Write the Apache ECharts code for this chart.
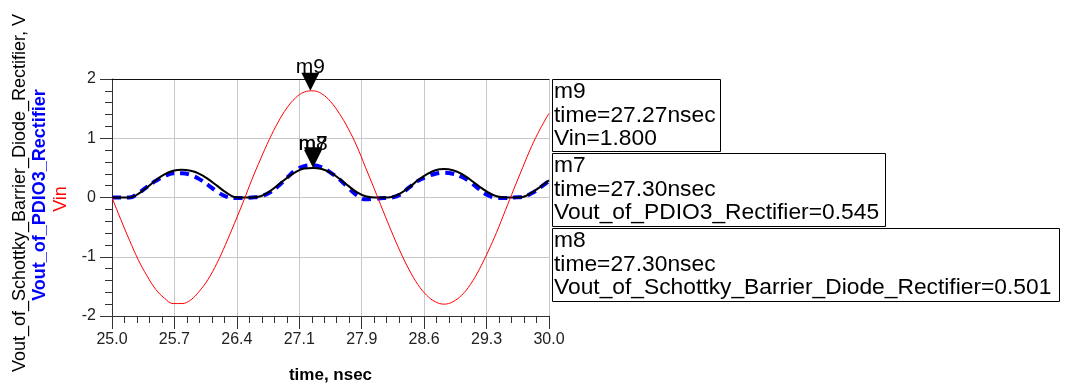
<!DOCTYPE html>
<html><head><meta charset="utf-8">
<script src="https://cdn.jsdelivr.net/npm/echarts@6/dist/echarts.min.js"></script>
<style>html,body{margin:0;padding:0;background:#fff}#c{width:1066px;height:387px}</style>
</head><body><div id="c"></div>
<script>
// ---- data ----
const timeNs = [25.0,25.1,25.2,25.3,25.4,25.5,25.6,25.7,25.8,25.9,
  26.0,26.1,26.2,26.3,26.4,26.5,26.6,26.7,26.8,26.9,
  27.0,27.1,27.2,27.3,27.4,27.5,27.6,27.7,27.8,27.9,
  28.0,28.1,28.2,28.3,28.4,28.5,28.6,28.7,28.8,28.9,
  29.0,29.1,29.2,29.3,29.4,29.5,29.6,29.7,29.8,29.9,30.0];
const vin = [0,-0.37,-0.72,-1.05,-1.32,-1.55,-1.70,-1.79,-1.79,-1.73,
  -1.58,-1.38,-1.11,-0.79,-0.44,-0.08,0.30,0.65,0.98,1.27,
  1.51,1.68,1.78,1.80,1.75,1.62,1.42,1.17,0.87,0.51,
  0.15,-0.22,-0.58,-0.92,-1.22,-1.47,-1.65,-1.76,-1.80,-1.76,
  -1.65,-1.47,-1.22,-0.92,-0.59,-0.22,0.15,0.51,0.86,1.16,1.42];
const voutSchottky = [0,0,0,0.06,0.17,0.29,0.39,0.45,0.47,0.45,
  0.40,0.31,0.20,0.09,0.01,0,0,0.02,0.10,0.21,
  0.33,0.43,0.49,0.50,0.48,0.42,0.32,0.20,0.09,0.02,
  0,0,0.01,0.07,0.17,0.29,0.39,0.46,0.48,0.46,
  0.40,0.30,0.19,0.09,0.02,0,0,0.01,0.08,0.18,0.29];
const voutPdio3 = [0,0,0,0.07,0.18,0.28,0.36,0.41,0.41,0.38,
  0.31,0.21,0.10,0.02,-0.01,-0.01,0,0.02,0.08,0.19,
  0.33,0.46,0.53,0.545,0.51,0.42,0.31,0.17,0.04,-0.03,
  -0.02,-0.01,0,0.05,0.17,0.28,0.35,0.40,0.42,0.40,
  0.35,0.26,0.14,0.04,-0.01,-0.01,0,0.01,0.07,0.17,0.28];
const xTickLabels = ['25.0','25.7','26.4','27.1','27.9','28.6','29.3','30.0'];
const yTickLabels = ['-2','-1','0','1','2'];
const markerNames = ['m9','m7','m8'];
const markerTimes = [27.27, 27.30, 27.30];
const markerValues = [1.800, 0.545, 0.501];
const markerTraces = ['Vin','Vout_of_PDIO3_Rectifier','Vout_of_Schottky_Barrier_Diode_Rectifier'];
const yTitles = ['Vout_of_Schottky_Barrier_Diode_Rectifier, V','Vout_of_PDIO3_Rectifier','Vin'];
const xTitle = 'time, nsec';

// ---- chart ----
const FONT = '"Liberation Sans", Arial, sans-serif';
const chart = echarts.init(document.getElementById('c'));
const xMin = 25, xMax = 30, xStep = (xMax - xMin) / (xTickLabels.length - 1);
function pairs(v) { return timeNs.map((t, i) => [t, v[i]]); }
function markFor(idx, labelShift) {
  return {
    symbol: 'path://M0,0L18,0L9,18Z',
    symbolSize: [18, 18],
    symbolOffset: [0, -9],
    itemStyle: {color: '#000'},
    label: {show: true, position: 'top', distance: -5, offset: [0, labelShift || 0],
      color: '#000', fontSize: 21, fontFamily: FONT, formatter: () => markerNames[idx]},
    data: [{coord: [markerTimes[idx], markerValues[idx]], name: markerNames[idx]}]
  };
}

const boxes = [
  {x: 552.5, y: 79.5, w: 168, h: 72},
  {x: 552.5, y: 153.5, w: 333, h: 73},
  {x: 552.5, y: 228.5, w: 507, h: 73}
];
const graphic = [];
const titleStyles = [
  {x: 20, y: 193, fill: '#000', weight: 'normal'},
  {x: 40, y: 195, fill: '#0000ff', weight: 'bold'},
  {x: 61, y: 199, fill: '#ff0000', weight: 'normal'}
];
yTitles.forEach((t, i) => {
  const s = titleStyles[i];
  graphic.push({type: 'text', x: s.x, y: s.y, rotation: Math.PI / 2,
    style: {text: t, fill: s.fill, font: s.weight + ' 18px ' + FONT,
      textAlign: 'center', textVerticalAlign: 'middle'}});
});
markerNames.forEach((n, i) => {
  const b = boxes[i];
  graphic.push({type: 'rect', shape: {x: b.x, y: b.y, width: b.w, height: b.h},
    style: {fill: '#fff', stroke: '#000', lineWidth: 1}});
  const txt = n + '\ntime=' + markerTimes[i].toFixed(2) + 'nsec\n' +
    markerTraces[i] + '=' + markerValues[i].toFixed(3);
  graphic.push({type: 'text', x: b.x + 1.5, y: b.y + 1,
    style: {text: txt, fill: '#000', font: '22.8px ' + FONT, lineHeight: 23.3,
      textVerticalAlign: 'top'}});
});

const option = {
  animation: false,
  backgroundColor: '#fff',
  grid: {left: 112, right: 517, top: 79, bottom: 71, containLabel: false, outerBoundsMode: 'none'},
  xAxis: [{
    type: 'value', min: xMin, max: xMax, interval: xStep,
    name: xTitle, nameLocation: 'middle', nameGap: 51,
    nameTextStyle: {fontFamily: FONT, fontSize: 17, fontWeight: 'bold', color: '#000'},
    axisLine: {show: true, onZero: false, lineStyle: {color: '#333', width: 1}},
    axisTick: {show: true, length: 13, lineStyle: {color: '#333'}},
    minorTick: {show: true, splitNumber: 5, length: 7, lineStyle: {color: '#333'}},
    axisLabel: {margin: 16, color: '#222', fontSize: 16, fontFamily: FONT,
      formatter: v => xTickLabels[Math.round((v - xMin) / xStep)]},
    splitLine: {show: true, lineStyle: {color: '#c8c8c8', width: 1}}
  }, {
    type: 'value', position: 'top', min: xMin, max: xMax,
    axisLine: {show: true, onZero: false, lineStyle: {color: '#111', width: 1}},
    axisTick: {show: false}, axisLabel: {show: false}, splitLine: {show: false}
  }],
  yAxis: {
    type: 'value', min: -2, max: 2, interval: 1,
    axisLine: {show: true, onZero: false, lineStyle: {color: '#333', width: 1}},
    axisTick: {show: true, length: 12, lineStyle: {color: '#333'}},
    minorTick: {show: true, splitNumber: 5, length: 7, lineStyle: {color: '#333'}},
    axisLabel: {margin: 16, color: '#222', fontSize: 16, fontFamily: FONT,
      formatter: v => yTickLabels[Math.round(v + 2)]},
    splitLine: {show: true, lineStyle: {color: '#c8c8c8', width: 1}}
  },
  series: [
    {name: 'Vout_of_PDIO3_Rectifier', type: 'line', data: pairs(voutPdio3),
      showSymbol: false, smooth: 0.4,
      lineStyle: {color: '#0000ff', width: 4, type: [9, 6]}, markPoint: markFor(1, 2.6)},
    {name: 'Vout_of_Schottky_Barrier_Diode_Rectifier', type: 'line', data: pairs(voutSchottky),
      showSymbol: false, smooth: 0.4,
      lineStyle: {color: '#000', width: 2}, markPoint: markFor(2, 0)},
    {name: 'Vin', type: 'line', data: pairs(vin), showSymbol: false, smooth: 0.4,
      lineStyle: {color: '#ff0000', width: 1}, markPoint: markFor(0, 0)}
  ],
  graphic: graphic
};
chart.setOption(option);
</script></body></html>
